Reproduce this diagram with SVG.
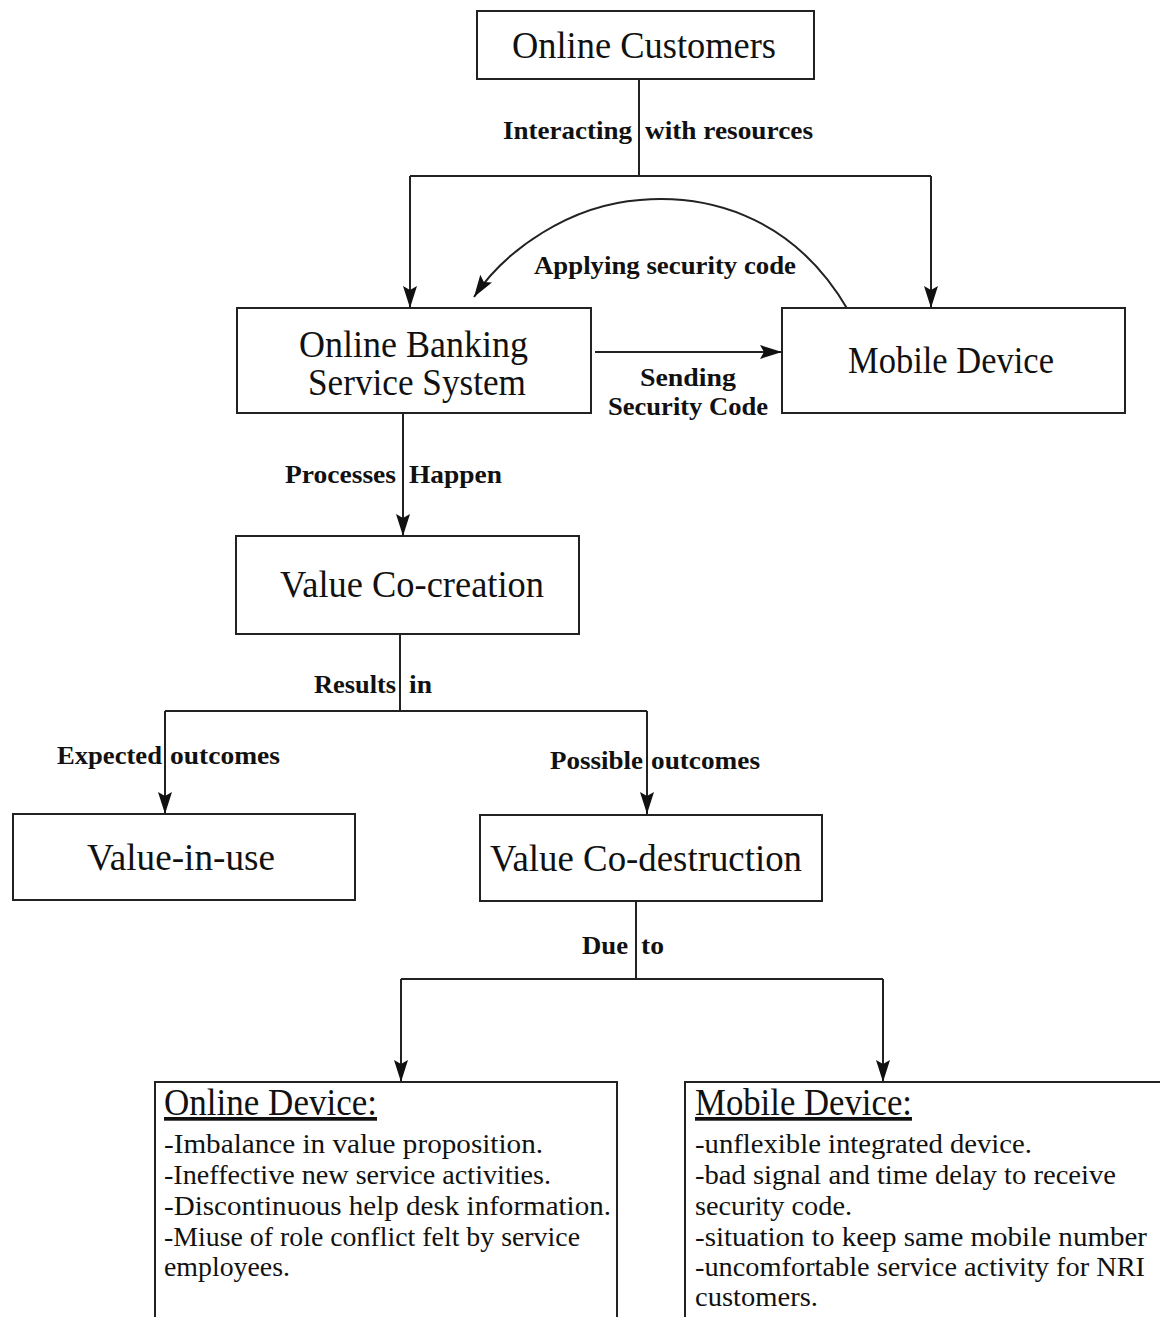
<svg xmlns="http://www.w3.org/2000/svg" width="1160" height="1317" viewBox="0 0 1160 1317">
<defs>
<style>
.box{fill:#fff;stroke:#222;stroke-width:2}
text{font-family:'Liberation Serif','Times New Roman',Times,'DejaVu Serif',serif;fill:#111}
.t{font-size:37px}
.b{font-size:26px;font-weight:bold}
.s{font-size:28px}
.ln{fill:none;stroke:#222;stroke-width:2}
</style>
<marker id="ah" markerUnits="userSpaceOnUse" markerWidth="24" markerHeight="14" refX="22" refY="7" orient="auto">
<path d="M0,0 L22,7 L0,14 L4,7 Z" fill="#111"/>
</marker>
</defs>
<rect width="1160" height="1317" fill="#fff"/>

<g id="connectors">
<path class="ln" d="M639,79 V176"/>
<path class="ln" d="M410,176 H931"/>
<path class="ln" d="M410,176 V308" marker-end="url(#ah)"/>
<path class="ln" d="M931,176 V308" marker-end="url(#ah)"/>
<path class="ln" d="M848,310 C790,210 700,195 640,200 C570,205 505,250 474,297" marker-end="url(#ah)"/>
<path class="ln" d="M595,352 H782" marker-end="url(#ah)"/>
<path class="ln" d="M403,413 V536" marker-end="url(#ah)"/>
<path class="ln" d="M400,634 V711 M165,711 H647"/>
<path class="ln" d="M165,711 V814" marker-end="url(#ah)"/>
<path class="ln" d="M647,711 V814" marker-end="url(#ah)"/>
<path class="ln" d="M636,901 V979 M401,979 H883"/>
<path class="ln" d="M401,979 V1082" marker-end="url(#ah)"/>
<path class="ln" d="M883,979 V1082" marker-end="url(#ah)"/>
<text class="b" x="503" y="139" textLength="129" lengthAdjust="spacingAndGlyphs">Interacting</text>
<text class="b" x="645" y="139" textLength="168" lengthAdjust="spacingAndGlyphs">with resources</text>
<text class="b" x="534" y="274" textLength="262" lengthAdjust="spacingAndGlyphs">Applying security code</text>
<text class="b" x="640" y="386" textLength="96" lengthAdjust="spacingAndGlyphs">Sending</text>
<text class="b" x="608" y="415" textLength="160" lengthAdjust="spacingAndGlyphs">Security Code</text>
<text class="b" x="285" y="483" textLength="111" lengthAdjust="spacingAndGlyphs">Processes</text>
<text class="b" x="409" y="483" textLength="93" lengthAdjust="spacingAndGlyphs">Happen</text>
<text class="b" x="314" y="693" textLength="82" lengthAdjust="spacingAndGlyphs">Results</text>
<text class="b" x="409" y="693" textLength="23" lengthAdjust="spacingAndGlyphs">in</text>
<text class="b" x="57" y="764" textLength="105" lengthAdjust="spacingAndGlyphs">Expected</text>
<text class="b" x="170" y="764" textLength="110" lengthAdjust="spacingAndGlyphs">outcomes</text>
<text class="b" x="550" y="769" textLength="93" lengthAdjust="spacingAndGlyphs">Possible</text>
<text class="b" x="651" y="769" textLength="109" lengthAdjust="spacingAndGlyphs">outcomes</text>
<text class="b" x="582" y="954" textLength="46" lengthAdjust="spacingAndGlyphs">Due</text>
<text class="b" x="641" y="954" textLength="23" lengthAdjust="spacingAndGlyphs">to</text>
</g>

<g id="online-customers">
<rect class="box" x="477" y="11" width="337" height="68"/>
<text class="t" x="512" y="58" textLength="264" lengthAdjust="spacingAndGlyphs">Online Customers</text>
</g>

<g id="online-banking">
<rect class="box" x="237" y="308" width="354" height="105"/>
<text class="t" x="299" y="357" textLength="229" lengthAdjust="spacingAndGlyphs">Online Banking</text>
<text class="t" x="308" y="395" textLength="218" lengthAdjust="spacingAndGlyphs">Service System</text>
</g>

<g id="mobile-device">
<rect class="box" x="782" y="308" width="343" height="105"/>
<text class="t" x="848" y="373" textLength="206" lengthAdjust="spacingAndGlyphs">Mobile Device</text>
</g>

<g id="value-co-creation">
<rect class="box" x="236" y="536" width="343" height="98"/>
<text class="t" x="280" y="597" textLength="264" lengthAdjust="spacingAndGlyphs">Value Co-creation</text>
</g>

<g id="value-in-use">
<rect class="box" x="13" y="814" width="342" height="86"/>
<text class="t" x="87" y="870" textLength="188" lengthAdjust="spacingAndGlyphs">Value-in-use</text>
</g>

<g id="value-co-destruction">
<rect class="box" x="480" y="815" width="342" height="86"/>
<text class="t" x="490" y="871" textLength="312" lengthAdjust="spacingAndGlyphs">Value Co-destruction</text>
</g>

<g id="online-device-causes">
<rect class="box" x="155" y="1082" width="462" height="240"/>
<text class="t" x="164" y="1115" textLength="213" lengthAdjust="spacingAndGlyphs" text-decoration="underline">Online Device:</text>
<text class="s" x="164" y="1153" textLength="379" lengthAdjust="spacingAndGlyphs">-Imbalance in value proposition.</text>
<text class="s" x="164" y="1184" textLength="387" lengthAdjust="spacingAndGlyphs">-Ineffective new service activities.</text>
<text class="s" x="164" y="1215" textLength="447" lengthAdjust="spacingAndGlyphs">-Discontinuous help desk information.</text>
<text class="s" x="164" y="1246" textLength="416" lengthAdjust="spacingAndGlyphs">-Miuse of role conflict felt by service</text>
<text class="s" x="164" y="1276" textLength="126" lengthAdjust="spacingAndGlyphs">employees.</text>
</g>

<g id="mobile-device-causes">
<rect class="box" x="685" y="1082" width="490" height="240"/>
<text class="t" x="695" y="1115" textLength="217" lengthAdjust="spacingAndGlyphs" text-decoration="underline">Mobile Device:</text>
<text class="s" x="695" y="1153" textLength="337" lengthAdjust="spacingAndGlyphs">-unflexible integrated device.</text>
<text class="s" x="695" y="1184" textLength="421" lengthAdjust="spacingAndGlyphs">-bad signal and time delay to receive</text>
<text class="s" x="695" y="1215" textLength="157" lengthAdjust="spacingAndGlyphs">security code.</text>
<text class="s" x="695" y="1246" textLength="452" lengthAdjust="spacingAndGlyphs">-situation to keep same mobile number</text>
<text class="s" x="695" y="1276" textLength="450" lengthAdjust="spacingAndGlyphs">-uncomfortable service activity for NRI</text>
<text class="s" x="695" y="1306" textLength="123" lengthAdjust="spacingAndGlyphs">customers.</text>
</g>
</svg>
